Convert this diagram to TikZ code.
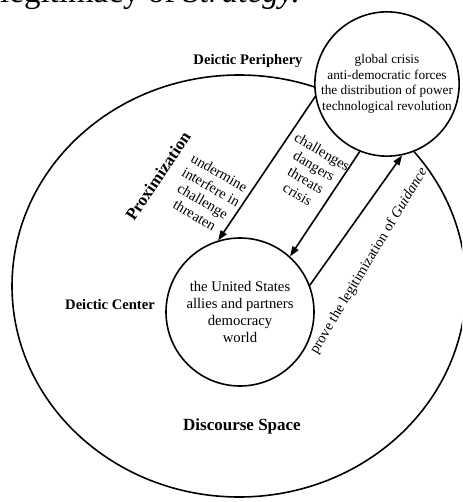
\documentclass[tikz,border=0pt]{standalone}
\usepackage{fontspec}
\setmainfont{Liberation Serif}
\usetikzlibrary{arrows.meta,shapes.geometric}

\tikzset{
  deixis/.style={circle,draw,line width=1.6pt,inner sep=0pt,align=center},
  heading/.style={font=\bfseries\fontsize{14.6}{17}\selectfont},
  bigheading/.style={font=\bfseries\fontsize{17}{20}\selectfont},
  verbs/.style={font=\fontsize{14.5}{16.4}\selectfont,align=center,inner sep=0pt},
  arr/.style={-{Triangle[length=10pt,width=7pt]},line width=1.6pt}
}

\begin{document}
\begin{tikzpicture}[x=1pt,y=-1pt]
\useasboundingbox (0,0) rectangle (462,502);
\clip (0,0) rectangle (462,502);

% cut-off line of the page above the figure
\node[anchor=base west,inner sep=0pt,font=\fontsize{33}{40}\selectfont] (caption) at (0,3) {legitimacy of \textit{Strategy.}};

% discourse space and the two deictic circles
\node[ellipse,draw,line width=1.6pt,minimum width=454pt,minimum height=422pt,inner sep=0pt] (space) at (239,286) {};
\node[deixis,fill=white,minimum size=144pt,font=\fontsize{13.3}{15.5}\selectfont] (peri) at (387,84) {global crisis\\anti-democratic forces\\the distribution of power\\technological revolution};
\node[deixis,minimum size=148pt,font=\fontsize{14.7}{17}\selectfont] (cen) at (240,312) {the United States\\allies and partners\\democracy\\world};

% labels
\node[heading] (perilabel) at (248,61) {Deictic Periphery};
\node[heading] (cenlabel) at (110,305) {Deictic Center};
\node[bigheading] (spacelabel) at (242,426) {Discourse Space};
\node[bigheading,rotate=56] (prox) at (158,176) {Proximization};

% the three arrows
\draw[arr] (peri.190) -- (cen.107);
\draw[arr] (peri.248) -- (cen.48);
\draw[arr] (cen.21) -- (peri.282);

\node[verbs,rotate=-30] (acts) at (207,194) {undermine\\interfere in\\challenge\\threaten};
\node[verbs,rotate=-30] (threats) at (310,173) {challenges\\dangers\\threats\\crisis};
\node[verbs,rotate=59] (prove) at (369,261) {prove the legitimization of \textit{Guidance}};

\end{tikzpicture}
\end{document}
